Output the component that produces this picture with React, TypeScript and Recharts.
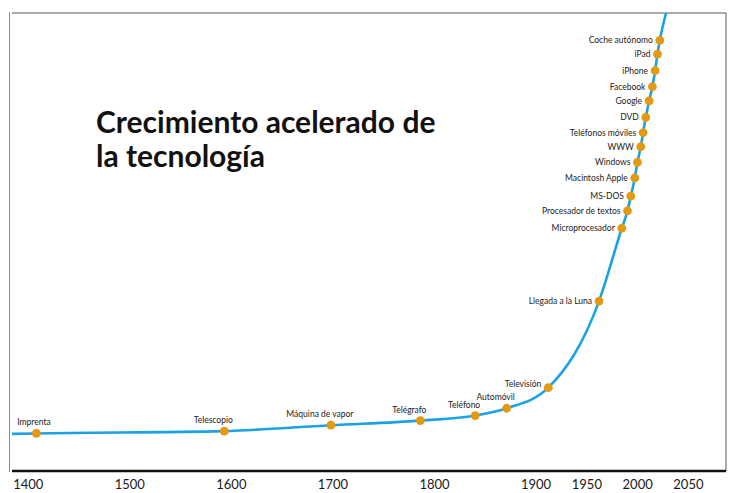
import { useLayoutEffect } from 'react';
import { Line, LineChart, ReferenceLine, XAxis, YAxis } from 'recharts';

// x = position on the (roughly linear) year axis, y = "level of technology" 0..100
const years = [
  1384, 1408, 1593, 1698, 1786, 1840, 1871, 1912, 1962, 1984.4, 1990, 1993.3, 1997.2,
  1999.8, 2003.1, 2005.4, 2008, 2011.3, 2014.5, 2017.2, 2019.5, 2021.8, 2028,
];
const levels = [
  8.1, 8.2, 8.7, 10.0, 11.0, 12.1, 13.7, 18.2, 37.1, 53.0, 56.8, 60.0, 64.0, 67.4, 70.8,
  73.9, 77.2, 80.8, 83.9, 87.4, 91.0, 94.0, 100,
];
const labels = [
  '', 'Imprenta', 'Telescopio', 'Máquina de vapor', 'Telégrafo', 'Teléfono', 'Automóvil',
  'Televisión', 'Llegada a la Luna', 'Microprocesador', 'Procesador de textos', 'MS-DOS',
  'Macintosh Apple', 'Windows', 'WWW', 'Teléfonos móviles', 'DVD', 'Google', 'Facebook',
  'iPhone', 'iPad', 'Coche autónomo', '',
];
const yearTicks = [1400, 1500, 1600, 1700, 1800, 1900, 1950, 2000, 2050];

const data = years.map((year, i) => ({ year, level: levels[i], label: labels[i] }));

const FONT = 'Lato, "Open Sans", sans-serif';
const X_DOMAIN = [1384, 2087];

function EventDot(props: any) {
  const { cx, cy, payload, index } = props;
  if (!payload.label) return <g key={`d-${index}`} />;
  const above = payload.year < 1900;
  // labels on the flat part sit above the dot, the rest to its left
  const x = above ? Math.max(cx - 11, 34) : cx - 7;
  const y = above ? cy - 11 : payload.year < 1950 ? cy - 4 : cy;
  return (
    <g key={`d-${index}`}>
      <circle cx={cx} cy={cy} r={4.4} fill="#e39a10" />
      <text
        x={x}
        y={y}
        textAnchor={above ? 'middle' : 'end'}
        dominantBaseline="central"
        fontSize={8.5}
        fontFamily={FONT}
        fill="#222"
      >
        {payload.label}
      </text>
    </g>
  );
}

export default function App() {
  useLayoutEffect(() => {
    document.body.style.margin = '0';
    document.documentElement.style.overflow = 'hidden';
    document.body.style.overflow = 'hidden';
  }, []);

  return (
    <div style={{ position: 'relative', width: 730, height: 493, background: '#fff', overflow: 'hidden' }}>
      <div
        style={{
          position: 'absolute',
          left: 9,
          top: 12,
          width: 4,
          height: 460,
          borderLeft: '1.5px solid #8c8c8c',
        }}
      />
      <div
        style={{
          position: 'absolute',
          left: 96,
          top: 104,
          fontFamily: FONT,
          fontWeight: 700,
          fontSize: 30,
          lineHeight: '34px',
          color: '#111',
          whiteSpace: 'nowrap',
        }}
      >
        Crecimiento acelerado de
        <br />
        la tecnología
      </div>
      <div style={{ position: 'absolute', left: 0, top: 0 }}>
        <LineChart width={730} height={493} data={data} margin={{ top: 13, right: 4, left: 12, bottom: 2 }}>
          <XAxis
            dataKey="year"
            type="number"
            domain={X_DOMAIN}
            ticks={yearTicks}
            height={20}
            tickLine={false}
            tickMargin={3}
            axisLine={{ stroke: '#111', strokeWidth: 2.5 }}
            tick={{ fill: '#1a1a1a', fontSize: 13, fontFamily: FONT }}
          />
          <YAxis
            type="number"
            domain={[0, 100]}
            width={0}
            tick={false}
            tickLine={false}
            axisLine={{ stroke: '#111', strokeWidth: 2.5 }}
          />
          <ReferenceLine y={100} stroke="#8c8c8c" strokeWidth={1.5} />
          <ReferenceLine x={X_DOMAIN[1]} stroke="#8c8c8c" strokeWidth={1.5} />
          <Line
            type="monotone"
            dataKey="level"
            stroke="#1ba2e4"
            strokeWidth={2.6}
            dot={EventDot}
            activeDot={false}
            isAnimationActive={false}
          />
        </LineChart>
      </div>
    </div>
  );
}
